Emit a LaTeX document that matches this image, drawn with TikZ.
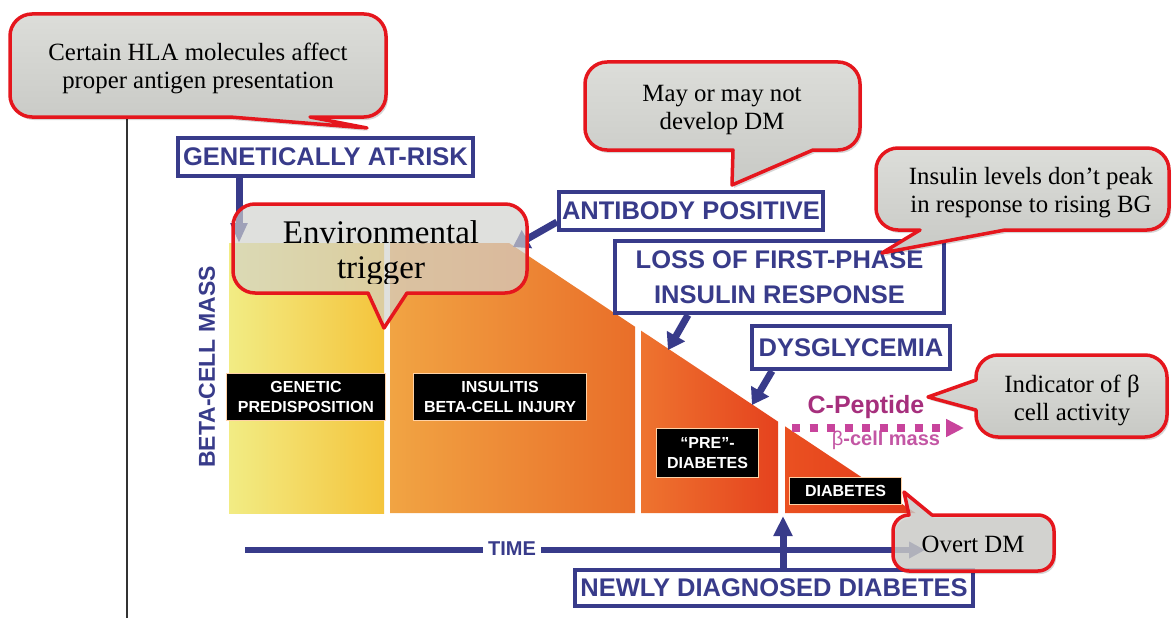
\documentclass[tikz,border=0pt]{standalone}
\usepackage{fontspec}
\setmainfont{Liberation Serif}
\newfontfamily\labfont{Liberation Sans}
\usetikzlibrary{arrows.meta,calc}

\definecolor{navy}{HTML}{383B8A}
\definecolor{bubred}{HTML}{E5161D}
\definecolor{bubfill}{HTML}{D1D2CE}
\definecolor{bubtop}{HTML}{DCDDD9}
\definecolor{bubbot}{HTML}{C8C9C5}
\definecolor{cpep}{HTML}{A62F7D}
\definecolor{cpepdot}{HTML}{C8449C}
\definecolor{cellmass}{HTML}{C356A4}
\definecolor{yelA}{HTML}{F2EC84}
\definecolor{yelB}{HTML}{F5E84A}
\definecolor{yelC}{HTML}{F4C43C}
\definecolor{oraA}{HTML}{F1A443}
\definecolor{oraB}{HTML}{E96E29}
\definecolor{redA}{HTML}{EE742F}
\definecolor{redB}{HTML}{E5421E}
\definecolor{redC}{HTML}{EA5121}
\definecolor{redD}{HTML}{E3381A}

% Speech bubbles: rounded box (corner radius \br) with a wedge on one side.
% Arguments: left, top, right, bottom, wedge base 1, wedge base 2, tip x, tip y
\def\br{22}
\newcommand\cornerTR[2]{-- (#1-\br,#2) .. controls (#1-0.45*\br,#2) and (#1,#2+0.45*\br) .. (#1,#2+\br)}
\newcommand\cornerBR[2]{-- (#1,#2-\br) .. controls (#1,#2-0.45*\br) and (#1-0.45*\br,#2) .. (#1-\br,#2)}
\newcommand\cornerBL[2]{-- (#1+\br,#2) .. controls (#1+0.45*\br,#2) and (#1,#2-0.45*\br) .. (#1,#2-\br)}
\newcommand\cornerTL[2]{-- (#1,#2+\br) .. controls (#1,#2+0.45*\br) and (#1+0.45*\br,#2) .. (#1+\br,#2)}
\newcommand\bubbleBottom[8]{(#1+\br,#2) \cornerTR{#3}{#2} \cornerBR{#3}{#4} -- (#6,#4) -- (#7,#8) -- (#5,#4) \cornerBL{#1}{#4} \cornerTL{#1}{#2} -- cycle}
\newcommand\bubbleLeft[8]{(#1+\br,#2) \cornerTR{#3}{#2} \cornerBR{#3}{#4} \cornerBL{#1}{#4} -- (#1,#6) -- (#7,#8) -- (#1,#5) \cornerTL{#1}{#2} -- cycle}
\newcommand\bubbleTop[8]{(#1+\br,#2) -- (#5,#2) -- (#7,#8) -- (#6,#2) \cornerTR{#3}{#2} \cornerBR{#3}{#4} \cornerBL{#1}{#4} \cornerTL{#1}{#2} -- cycle}

\begin{document}
\begin{tikzpicture}[x=1pt,y=-1pt,
  bubble/.style={draw=bubred,line width=3.5pt,top color=bubtop,bottom color=bubbot,line join=round},
  glassbubble/.style={draw=bubred,line width=3.5pt,fill=bubfill,line join=round},
  bubshadow/.style={fill=black,fill opacity=0.16,shift={(2pt,-3pt)}},
  bubtext/.style={font=\fontsize{24.8}{28}\selectfont,align=center,text=black,inner sep=0pt},
  navybox/.style={draw=navy,line width=4pt,fill=white,text=navy,inner sep=0pt,align=center,
    font=\labfont\bfseries\fontsize{25.5}{35}\selectfont},
  blackbox/.style={fill=black,draw=orange!35!white,line width=1pt,text=white,inner sep=0pt,align=center,
    font=\labfont\bfseries\fontsize{16}{20}\selectfont},
  navyarrow/.style={draw=navy,line width=7pt,-{Triangle[width=20pt,length=16pt]}},
]
\useasboundingbox (0,0) rectangle (1172,618);
\fill[white] (0,0) rectangle (1172,618);

% vertical rule on the left
\draw[black!80,line width=1.6pt] (127,117) -- (127,618);

% beta-cell mass decline, four stages
\shade[left color=yelA,middle color=yelB,right color=yelC] (229,243) rectangle (384,513);
\shade[left color=oraA,right color=oraB] (390,243) -- (509,243) -- (635,326.7) -- (635,513) -- (390,513) -- cycle;
\shade[left color=redA,right color=redB] (641,330.6) -- (778,421.6) -- (778,513) -- (641,513) -- cycle;
\shade[left color=redC,right color=redD] (785,426.3) -- (915.6,513) -- (785,513) -- cycle;

% stage labels
\node[blackbox,minimum width=159pt,minimum height=47pt] (genpred) at (306,397) {GENETIC\\PREDISPOSITION};
\node[blackbox,minimum width=173pt,minimum height=47pt] (insul) at (500,397) {INSULITIS\\BETA-CELL INJURY};
\node[blackbox,minimum width=102pt,minimum height=49pt] (prediab) at (707.5,453) {“PRE”-\\DIABETES};
\node[blackbox,minimum width=112pt,minimum height=27pt] (diab) at (845.5,491) {DIABETES};

% axis label
\node[rotate=90,text=navy,font=\labfont\bfseries\fontsize{23}{26}\selectfont] (mass) at (207,367) {BETA-CELL MASS};

% milestone boxes
\node[navybox,minimum width=295pt,minimum height=38pt] (gen) at (325.5,157) {GENETICALLY AT-RISK};
\node[navybox,minimum width=264pt,minimum height=38pt] (anti) at (691,211) {ANTIBODY POSITIVE};
\node[navybox,minimum width=329pt,minimum height=72pt] (loss) at (779.5,277) {LOSS OF FIRST-PHASE\\INSULIN RESPONSE};
\node[navybox,minimum width=198pt,minimum height=43pt] (dys) at (851,347.5) {DYSGLYCEMIA};
\node[navybox,minimum width=398pt,minimum height=36pt] (newly) at (774,588) {NEWLY DIAGNOSED DIABETES};

% milestone arrows
\coordinate (genTip) at (239,243);
\coordinate (antiTip) at (513,247);
\coordinate (lossTip) at (668,350);
\coordinate (dysTip) at (752,405);
\coordinate (newTip) at (783,516);
\draw[navyarrow,-{Triangle[width=16pt,length=20pt]}] (gen.south -| genTip) -- (genTip);
\draw[navyarrow] ([yshift=-11pt]anti.west) -- (antiTip);
\draw[navyarrow] ([xshift=-91.5pt]loss.south) -- (lossTip);
\draw[navyarrow] ([xshift=-79pt]dys.south) -- (dysTip);

% time axis
\node[text=navy,inner sep=5pt,font=\labfont\bfseries\fontsize{20}{24}\selectfont] (time) at (512,549) {TIME};
\coordinate (timeStart) at (245,550);
\coordinate (timeEnd) at (925,550);
\draw[navy,line width=6pt] (timeStart) -- (time.west |- timeStart);
\draw[navy,line width=6pt,-{Triangle[width=16pt,length=16pt]}] (time.east |- timeEnd) -- (timeEnd);
\draw[navyarrow,-{Triangle[width=18pt,length=20pt]}] (newly.north -| newTip) -- (newTip);

% C-peptide marker
\node[anchor=base,text=cpep,inner sep=0pt,font=\labfont\bfseries\fontsize{25}{28}\selectfont] (cpeptide) at (866,413) {C-Peptide};
\node[anchor=base,text=cellmass,inner sep=0pt,font=\labfont\bfseries\fontsize{20}{24}\selectfont] (cellmass) at (886,445) {{\mdseries β}-cell mass};
\coordinate (cpA) at (792,428);
\coordinate (cpB) at (964,428);
\draw[cpepdot,line width=8pt,dash pattern=on 8pt off 9.5pt,-{Triangle[width=17pt,length=18pt]}] (cpA) -- (cpB);

% speech bubbles
\fill[bubshadow] \bubbleBottom{10}{14}{386}{117}{230}{310}{367}{128};
\path[bubble] \bubbleBottom{10}{14}{386}{117}{230}{310}{367}{128};
\node[bubtext] (hla) at (198,68) {Certain HLA molecules affect\\proper antigen presentation};

\fill[bubshadow] \bubbleBottom{585}{62}{860}{150}{733}{813}{732}{185};
\path[bubble] \bubbleBottom{585}{62}{860}{150}{733}{813}{732}{185};
\node[bubtext] (maynot) at (722,110) {May or may not\\develop DM};

\fill[bubshadow] \bubbleBottom{876}{148}{1169}{230}{920}{1005}{882}{253};
\path[bubble] \bubbleBottom{876}{148}{1169}{230}{920}{1005}{882}{253};
\node[bubtext] (insulin) at (1031,193) {Insulin levels don’t peak\\in response to rising BG};

\filldraw[glassbubble,fill opacity=0.68] \bubbleBottom{233}{204}{527}{293}{368}{407}{384}{328};
\begin{scope}
  \clip (233,200) rectangle (527,283);
  \node[bubtext,font=\fontsize{33}{35}\selectfont] (env) at (381,253) {Environmental\\trigger};
\end{scope}

\fill[bubshadow] \bubbleLeft{976}{355}{1167}{437}{380}{410}{928}{397};
\path[bubble] \bubbleLeft{976}{355}{1167}{437}{380}{410}{928}{397};
\node[bubtext] (indicator) at (1072,400) {Indicator of β\\cell activity};

\def\br{16}
\fill[bubshadow] \bubbleTop{893}{515}{1054}{571}{909}{932}{904}{492};
\filldraw[glassbubble,fill opacity=0.8] \bubbleTop{893}{515}{1054}{571}{909}{932}{904}{492};
\node[bubtext,anchor=base] (overt) at (973,552) {Overt DM};
\end{tikzpicture}
\end{document}
